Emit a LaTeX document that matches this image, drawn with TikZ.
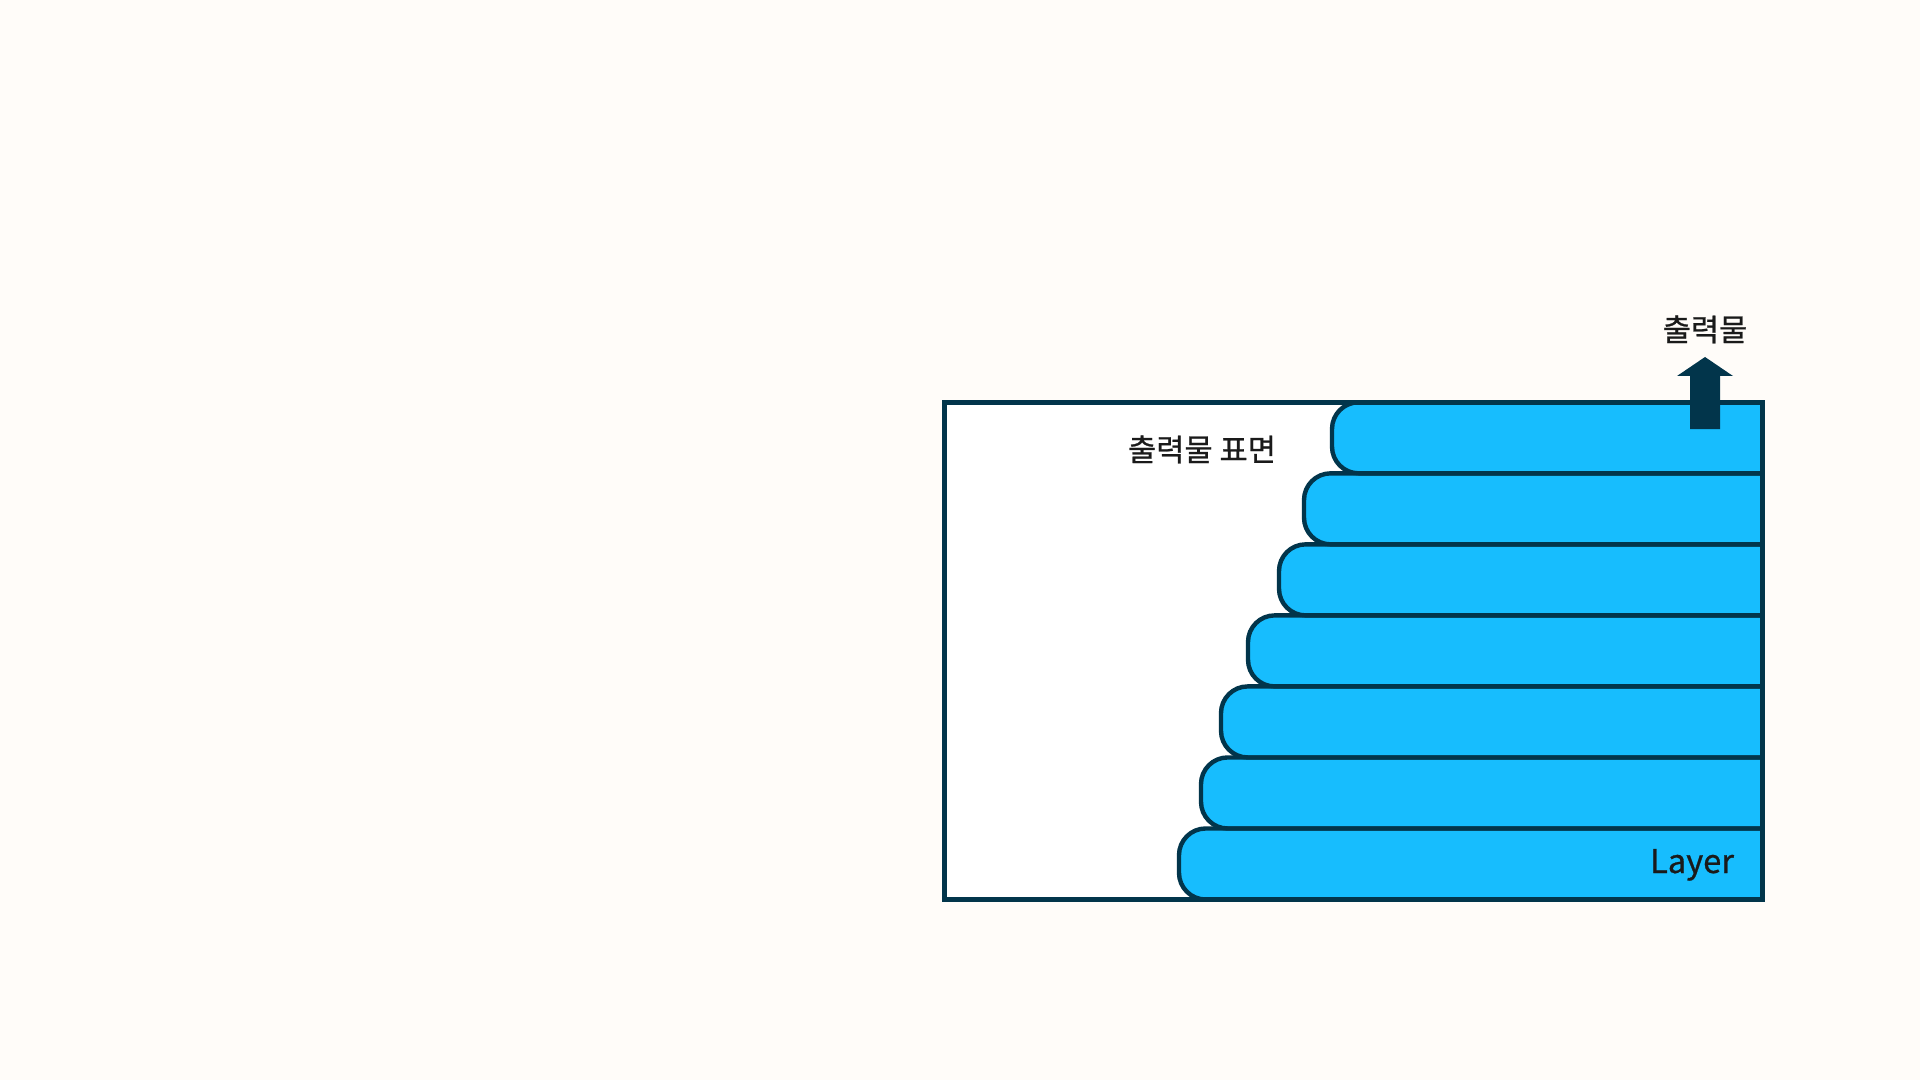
\documentclass[tikz,border=0pt]{standalone}
\usepackage{fontspec}
\setmainfont{Noto Sans CJK KR}
\newfontfamily\lblfont{Noto Sans CJK KR}[FakeBold=0.8]
\definecolor{bgc}{HTML}{FFFCF9}
\definecolor{inkc}{HTML}{02354B}
\definecolor{layc}{HTML}{17BDFE}
\definecolor{txtc}{HTML}{1A1A1A}
\tikzset{
  layerfill/.style={fill=layc, draw=none},
  layerline/.style={draw=inkc, line width=3.3pt, line join=round},
  boxline/.style={draw=inkc, line width=3.5pt},
  lbl/.style={text=txtc, font=\lblfont\fontsize{23pt}{27pt}\selectfont, inner sep=0pt, anchor=base},
}
\begin{document}
\begin{tikzpicture}[x={(0.75pt,0)}, y={(0,-0.75pt)}]
\useasboundingbox[fill=bgc] (0,0) rectangle (1920,1080);
% box background
\fill[white] (944.3,402.3) rectangle (1762.5,899.5);
% layers: fills first
\foreach \i/\lx in {0/1332,1/1304,2/1279,3/1248,4/1221,5/1201,6/1179}{
  \pgfmathsetmacro{\ty}{402.3+71.03*\i}
  \pgfmathsetmacro{\by}{402.3+71.03*(\i+1)}
  \path[layerfill] (1762.5,\ty) [rounded corners=20pt] -- (\lx,\ty) -- (\lx,\by) [sharp corners] -- (1762.5,\by) -- cycle;
}
\foreach \i/\lx in {0/1332,1/1304,2/1279,3/1248,4/1221,5/1201,6/1179}{
  \pgfmathsetmacro{\ty}{402.3+71.03*\i}
  \pgfmathsetmacro{\by}{402.3+71.03*(\i+1)}
  \path[layerline] (1762.5,\ty) [rounded corners=20pt] -- (\lx,\ty) -- (\lx,\by) [sharp corners] -- (1762.5,\by);
}
% outer box
\path[boxline] (944.3,402.3) rectangle (1762.5,899.5);
% output arrow
\fill[inkc] (1690,429) -- (1690,376) -- (1677,376) -- (1705,357) -- (1733,376) -- (1720,376) -- (1720,429) -- cycle;
% labels
\node[lbl] (outlbl) at (1705,341) {출력물};
\node[lbl] (surf) at (1202,461) {출력물 표면};
\node[lbl, font=\lblfont\fontsize{24.5pt}{28pt}\selectfont] (lay) at (1692,873) {Layer};
\end{tikzpicture}
\end{document}
